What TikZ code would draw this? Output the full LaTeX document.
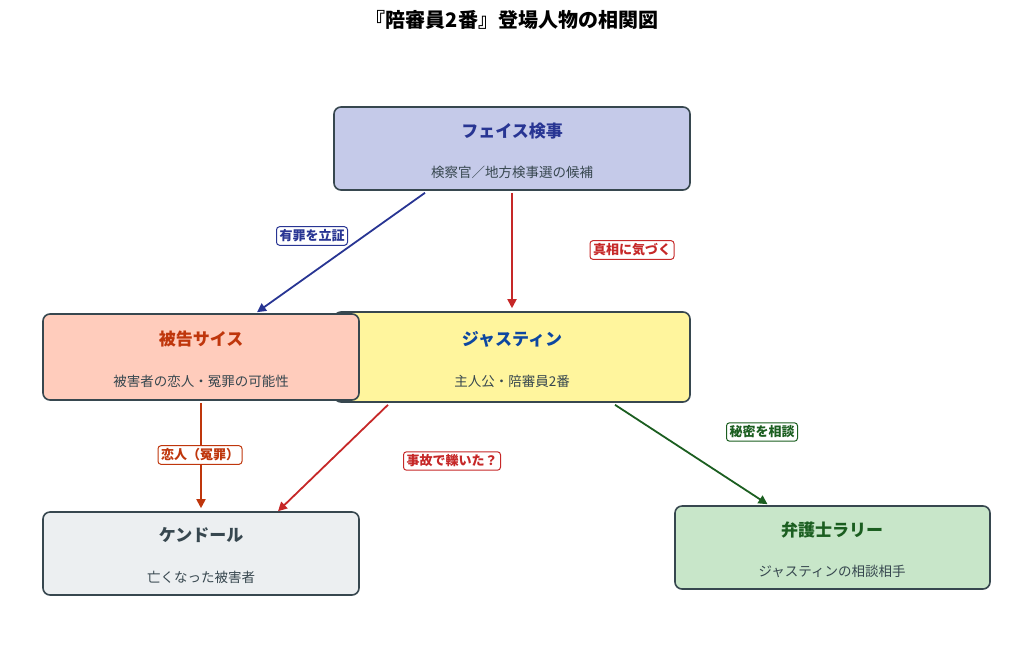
\documentclass[tikz,border=0pt]{standalone}
\usepackage{fontspec}
\setmainfont{Noto Sans CJK JP}
\usetikzlibrary{arrows.meta,calc,positioning}
\definecolor{rand}{HTML}{37474F}
\definecolor{blau}{HTML}{283593}
\definecolor{rot}{HTML}{C62828}
\definecolor{orange}{HTML}{BF360C}
\definecolor{gruen}{HTML}{1B5E20}
\definecolor{jblau}{HTML}{0D47A1}
\tikzset{
	box/.style={draw=rand,line width=1.6pt,rounded corners=7pt,minimum width=#1,inner sep=0pt},
	titel/.style={font=\fontsize{17}{17}\selectfont\bfseries},
	info/.style={font=\fontsize{13.5}{14}\selectfont,text=rand},
	pfeil/.style={line width=1.8pt,-{Triangle[length=9pt,width=9pt]}},
	marke/.style={draw,fill=white,rounded corners=3pt,line width=1pt,inner sep=3pt,font=\fontsize{13}{13}\selectfont\bfseries}
}
\begin{document}
\begin{tikzpicture}[x=1pt,y=-1pt]
	\useasboundingbox (0,0) rectangle (1024,657);
	\node[font=\fontsize{20}{20}\selectfont\bfseries] (T) at (512,20) {『陪審員2番』登場人物の相関図};
	% Personen
	\node[box=356pt,minimum height=83pt,fill={rgb,255:red,197;green,202;blue,233}] (faith) at (512,148.5) {};
	\node[box=356pt,minimum height=90pt,fill={rgb,255:red,255;green,245;blue,157}] (justin) at (512,357) {};
	\node[box=316pt,minimum height=86pt,fill={rgb,255:red,255;green,204;blue,188}] (sais) at (201,357) {};
	\node[box=316pt,minimum height=83pt,fill={rgb,255:red,236;green,239;blue,241}] (kendall) at (201,553.5) {};
	\node[box=315pt,minimum height=83pt,fill={rgb,255:red,200;green,230;blue,201}] (larry) at (832.5,547.5) {};
	\node[titel,text=blau] at (512,131) {フェイス検事};
	\node[info] at (512,172) {検察官／地方検事選の候補};
	\node[titel,text=jblau] at (512,339) {ジャスティン};
	\node[info] at (512,381) {主人公・陪審員2番};
	\node[titel,text=orange] at (201,339) {被告サイス};
	\node[info] at (201,381) {被害者の恋人・冤罪の可能性};
	\node[titel,text=rand] at (201,535) {ケンドール};
	\node[info] at (201,577) {亡くなった被害者};
	\node[titel,text=gruen] at (832,530) {弁護士ラリー};
	\node[info] at (832,571) {ジャスティンの相談相手};
	% Beziehungen
	\draw[pfeil,blau] ($(faith.south)+(-87,2)$) -- ($(sais.north)+(56,-1)$);
	\draw[pfeil,rot] ($(faith.south)+(0,2)$) -- ($(justin.north)+(0,-3)$);
	\draw[pfeil,orange] ($(sais.south)+(0,2)$) -- ($(kendall.north)+(0,-3)$);
	\draw[pfeil,rot] ($(justin.south)+(-124,2)$) -- ($(kendall.north)+(77,0)$);
	\draw[pfeil,gruen] ($(justin.south)+(103,2)$) -- ($(larry.north)+(-65,-1)$);
	\node[marke,draw=blau,text=blau] (l1) at (312,236) {有罪を立証};
	\node[marke,draw=rot,text=rot] (l2) at (632,250) {真相に気づく};
	\node[marke,draw=orange,text=orange] (l3) at (200,455) {恋人（冤罪）};
	\node[marke,draw=rot,text=rot] (l4) at (452,461) {事故で轢いた？};
	\node[marke,draw=gruen,text=gruen] (l5) at (762,432) {秘密を相談};
\end{tikzpicture}
\end{document}
